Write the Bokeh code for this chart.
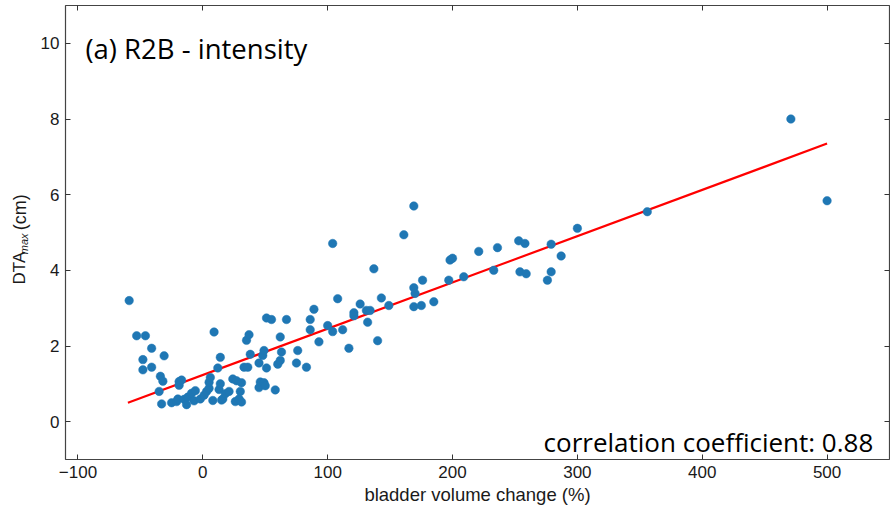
import math
from bokeh.plotting import figure
from bokeh.layouts import row
from bokeh.models import LinearAxis, FixedTicker, Label, Range1d
from bokeh.core.properties import value
from bokeh.embed import file_html
from bokeh.resources import INLINE

# ---- data ----
bladder_volume_change = [
    -59, -53, -46, -48, -48, -41, -41, -31, -34, -32,
    -35, -33, -25, -21, -20, -19, -19, -17, -15, -13,
    -12, -9, -7, -6, -2, 1, 3, 5, 5, 6,
    8, 9, 12, 13, 14, 14, 15, 16, 18, 21,
    24, 26, 27, 29, 30, 31, 31, 33, 35, 36,
    37, 38, 45, 45, 46, 48, 49, 49, 50, 51,
    51, 55, 58, 60, 62, 62, 63, 67, 75, 76,
    83, 86, 86, 89, 93, 100, 104, 104, 108, 112,
    117, 121, 121, 126, 131, 132, 134, 137, 140, 143,
    149, 161, 169, 169, 170, 169, 175, 176, 185, 197,
    198, 200, 209, 221, 233, 236, 253, 258, 254, 259,
    279, 279, 276, 287, 300, 356, 471, 500,
]
dta_max = [
    3.20, 2.27, 2.27, 1.64, 1.37, 1.94, 1.44, 1.74, 1.20, 1.07,
    0.80, 0.47, 0.50, 0.53, 0.60, 1.06, 0.96, 1.10, 0.59, 0.45,
    0.65, 0.75, 0.55, 0.82, 0.60, 0.70, 0.80, 0.88, 1.04, 1.17,
    0.56, 2.37, 1.42, 0.85, 1.70, 1.00, 0.57, 0.60, 0.74, 0.80,
    1.13, 0.53, 1.08, 0.60, 0.80, 0.52, 1.03, 1.44, 2.15, 1.44,
    2.30, 1.78, 1.55, 0.90, 1.05, 1.75, 1.03, 1.88, 0.95, 1.42,
    2.74, 2.70, 0.84, 1.52, 2.24, 1.62, 1.84, 2.70, 1.55, 1.88,
    1.44, 2.43, 2.70, 2.97, 2.11, 2.54, 2.38, 4.71, 3.25, 2.43,
    1.94, 2.88, 2.80, 3.11, 2.94, 2.63, 2.94, 4.04, 2.14, 3.27,
    3.07, 4.94, 5.70, 3.54, 3.39, 3.04, 3.07, 3.74, 3.17, 3.74,
    4.27, 4.32, 3.83, 4.50, 4.00, 4.60, 4.78, 4.71, 3.96, 3.91,
    4.69, 3.96, 3.74, 4.38, 5.11, 5.55, 8.00, 5.84,
]
fit_x = [-60, 500]
fit_y = [0.50, 7.35]

x_ticks = [-100, 0, 100, 200, 300, 400, 500]
y_ticks = [0, 2, 4, 6, 8, 10]
title_text = "(a) R2B - intensity"
corr_text = "correlation coefficient: 0.88"
x_label = "bladder volume change (%)"
y_label_parts = ["DTA", "max", "(cm)"]

TXT = "#1a1a1a"
TICK_FONT = "Liberation Sans"
H = 511
LEFT_W = 37

# ---- narrow strip holding the rotated y-axis title ----
lab = figure(width=LEFT_W, height=H, x_range=Range1d(0, LEFT_W), y_range=Range1d(0, H),
             output_backend="svg", toolbar_location=None,
             min_border=0, outline_line_color=None,
             background_fill_color="white", border_fill_color="white")
lab.axis.visible = False
lab.grid.visible = False
lab.text(x=[19], y=[197], text=[y_label_parts[0]], angle=math.pi / 2,
         text_font=value(TICK_FONT), text_font_size="17px", text_color=TXT,
         text_baseline="alphabetic", text_align="left")
lab.text(x=[23], y=[231], text=[y_label_parts[1]], angle=math.pi / 2,
         text_font=value(TICK_FONT), text_font_size="11px", text_font_style="italic",
         text_color=TXT, text_baseline="alphabetic", text_align="left")
lab.text(x=[19], y=[258], text=[y_label_parts[2]], angle=math.pi / 2,
         text_font=value(TICK_FONT), text_font_size="18px", text_color=TXT,
         text_baseline="alphabetic", text_align="left")

# ---- main scatter ----
p = figure(
    width=890 - LEFT_W, height=H,
    x_range=Range1d(-110, 550), y_range=Range1d(-1, 11),
    output_backend="svg", toolbar_location=None,
    min_border_left=65 - LEFT_W, min_border_right=1, min_border_top=5, min_border_bottom=52,
    background_fill_color="white", border_fill_color="white",
)
p.grid.visible = False
p.outline_line_color = "#444444"
p.outline_line_width = 1.2

def style_axis(ax, labels=True):
    ax.axis_line_color = None
    ax.major_tick_in = 5
    ax.major_tick_out = 0
    ax.major_tick_line_color = "#333333"
    ax.minor_tick_line_color = None
    if labels:
        ax.major_label_text_font = TICK_FONT
        ax.major_label_text_font_size = "17px"
        ax.major_label_text_color = TXT
        ax.major_label_standoff = 6
    else:
        ax.major_label_text_font_size = "0px"
        ax.major_label_standoff = 0
        ax.major_label_text_color = None

p.xaxis.ticker = FixedTicker(ticks=x_ticks)
p.yaxis.ticker = FixedTicker(ticks=y_ticks)
for ax in p.xaxis:
    style_axis(ax)
    ax.major_label_overrides = {t: str(t).replace("-", "\u2212") for t in x_ticks}
    ax.axis_label = x_label
    ax.axis_label_text_font = TICK_FONT
    ax.axis_label_text_font_style = "normal"
    ax.axis_label_text_font_size = "18.5px"
    ax.axis_label_text_color = TXT
    ax.axis_label_standoff = 3
for ax in p.yaxis:
    style_axis(ax)
    ax.major_label_standoff = 6

top_ax = LinearAxis(ticker=FixedTicker(ticks=x_ticks))
style_axis(top_ax, labels=False)
p.add_layout(top_ax, "above")
right_ax = LinearAxis(ticker=FixedTicker(ticks=y_ticks))
style_axis(right_ax, labels=False)
p.add_layout(right_ax, "right")

# regression line and points
p.line(fit_x, fit_y, line_color="red", line_width=2.2)
p.scatter(bladder_volume_change, dta_max, size=8.5, fill_color="#1f77b4",
          line_color="#1f77b4", line_width=0.5)

# annotations
p.add_layout(Label(x=-94, y=9.87, text=title_text, text_font="Open Sans",
                   text_font_size="27.5px", text_color="black",
                   text_baseline="alphabetic", text_align="left"))
p.add_layout(Label(x=537, y=-0.54, text=corr_text, text_font="Open Sans",
                   text_font_size="26px", text_color="black",
                   text_baseline="alphabetic", text_align="right"))

layout = row(lab, p, spacing=0)
open("out.html", "w").write(file_html(layout, INLINE))
